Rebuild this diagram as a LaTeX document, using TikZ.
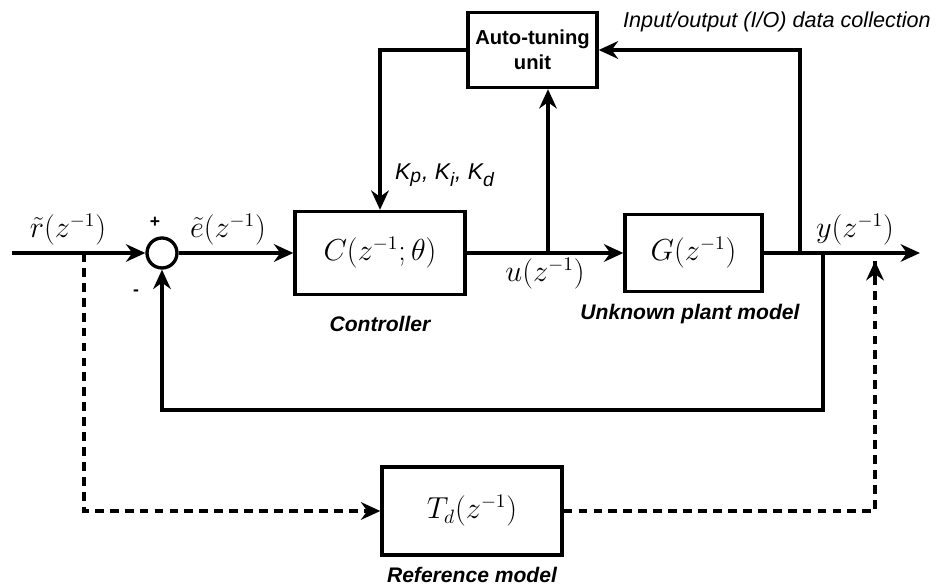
\documentclass[tikz,border=0pt]{standalone}
\usepackage{fontspec}
\newfontfamily\lsans{Liberation Sans}
\usetikzlibrary{arrows.meta}

\tikzstyle{dedge} = [-{Stealth[length=11pt,width=10pt]},line width=1.9pt,draw=black]
\tikzstyle{dline} = [line width=1.9pt,draw=black]
\tikzstyle{dashedge} = [dedge,dash pattern=on 5pt off 3.5pt]
\tikzstyle{dashline} = [dline,dash pattern=on 5pt off 3.5pt]
\tikzstyle{block}=[
  rectangle,
  draw=black,
  line width=1.9pt,
  align=center,
  anchor=center,
  font=\fontsize{16}{18}\selectfont,
]
\tikzstyle{sum}=[
  circle,
  draw=black,
  line width=1.9pt,
  minimum size=0.6cm,
  inner sep=0pt,
]
\tikzstyle{caption}=[
  font=\lsans\bfseries\itshape\fontsize{12}{14}\selectfont,
  anchor=center,
]
\tikzstyle{signal}=[
  font=\fontsize{16}{18}\selectfont,
  anchor=center,
]

\begin{document}
\begin{tikzpicture}
      \useasboundingbox (0,0) rectangle (18.98,-11.76);

      \node[sum] (sum) at (3.24,-5.06) {};
      \node[block,minimum width=3.4cm,minimum height=1.66cm] (ctrl) at (7.6,-5.06) {$C(z^{-1};\theta)$};
      \node[block,minimum width=2.74cm,minimum height=1.54cm] (plant) at (13.87,-5.06) {$G(z^{-1})$};
      \node[block,minimum width=2.58cm,minimum height=1.5cm,font=\lsans\bfseries\fontsize{11.5}{14}\selectfont] (tune) at (10.65,-1.0) {Auto-tuning\\unit};
      \node[block,minimum width=3.6cm,minimum height=1.76cm] (ref) at (9.44,-10.22) {$T_d(z^{-1})$};

      \coordinate (in) at (0.24,-5.06);
      \coordinate (out) at (18.4,-5.06);
      \coordinate (rsplit) at (1.68,-5.06);
      \coordinate (usplit) at (10.96,-5.06);
      \coordinate (iosplit) at (16.0,-5.06);
      \coordinate (ysplit) at (16.46,-5.06);
      \coordinate (dsplit) at (17.5,-5.06);

      % forward path
      \draw[dedge] (in) -- (sum);
      \draw[dedge] (sum) -- (ctrl);
      \draw[dedge] (ctrl) -- (plant);
      \draw[dedge] (plant) -- (out);

      % feedback and tuning
      \draw[dedge] (ysplit) |- (3.24,-8.2) -- (sum);
      \draw[dedge] (usplit) -- (usplit |- tune.south);
      \draw[dedge] (iosplit) |- (tune.east);
      \draw[dedge] (tune.west) -| (ctrl.north);

      % reference model
      \draw[dashedge] (rsplit) |- (ref.west);
      \draw[dashline] (ref.east) -| ([yshift=-0.16cm] dsplit);
      \draw[dedge] ([yshift=-0.65cm] dsplit) -- ([yshift=-0.16cm] dsplit);

      \node[signal] (rlabel) at (1.36,-4.6) {$\tilde{r}(z^{-1})$};
      \node[signal] (elabel) at (4.56,-4.6) {$\tilde{e}(z^{-1})$};
      \node[signal] (ulabel) at (10.9,-5.48) {$u(z^{-1})$};
      \node[signal] (ylabel) at (17.1,-4.6) {$y(z^{-1})$};
      \node[font=\lsans\bfseries\fontsize{10}{12}\selectfont] (plus) at ([xshift=-0.14cm,yshift=0.62cm] sum.center) {+};
      \node[font=\lsans\bfseries\fontsize{10}{12}\selectfont] (minus) at ([xshift=-0.52cm,yshift=-0.8cm] sum.center) {-};
      \node[font=\lsans\itshape\fontsize{13}{15}\selectfont] (gains) at (8.9,-3.5) {K\textsubscript{\fontsize{11}{13}\selectfont p}, K\textsubscript{\fontsize{11}{13}\selectfont i}, K\textsubscript{\fontsize{11}{13}\selectfont d}};
      \node[font=\lsans\itshape\fontsize{12.3}{14}\selectfont] (iolabel) at (15.54,-0.44) {Input/output (I/O) data collection};

      \node[caption] (ctrlname) at ([yshift=-1.42cm] ctrl.center) {Controller};
      \node[caption] (plantname) at ([xshift=-0.07cm,yshift=-1.22cm] plant.center) {Unknown plant model};
      \node[caption] (refname) at ([yshift=-1.28cm] ref.center) {Reference model};
    \end{tikzpicture}
\end{document}
